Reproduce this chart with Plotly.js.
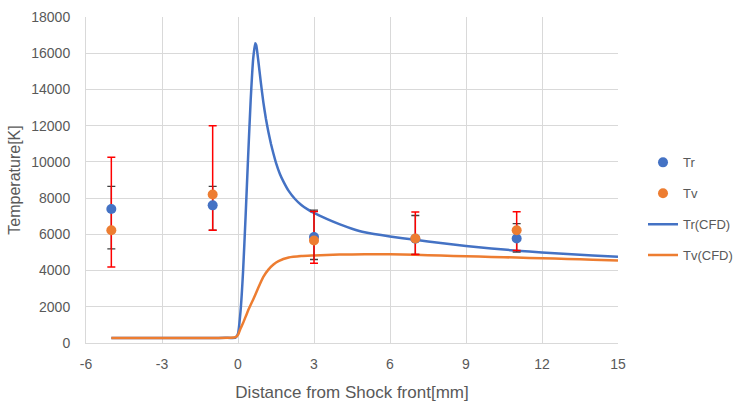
<!DOCTYPE html>
<html>
<head>
<meta charset="utf-8">
<script src="https://cdn.plot.ly/plotly-3.0.1.min.js"></script>
<style>html,body{margin:0;padding:0;background:#fff;}#chart{width:736px;height:403px;}</style>
</head>
<body>
<div id="chart"></div>
<script>
// Measured points
const pointX = [-5, -1, 3, 7, 11];
const trValues = [7400, 7600, 5850, 5760, 5770];
const tvValues = [6230, 8200, 5660, 5770, 6230];
// Error bars (Tr: dark, Tv: red)
const trErrPlus = [1250, 1050, 1490, 1280, 820];
const trErrMinus = [2200, 1370, 1240, 870, 750];
const tvErrPlus = [4020, 3790, 1605, 1460, 1020];
const tvErrMinus = [2040, 1970, 1250, 880, 1120];

// CFD curves
const trCfdX = [-5, -3, -1, -0.5, -0.1, 0, 0.1, 0.2, 0.3, 0.4, 0.5, 0.6, 0.68, 0.72, 0.8, 0.9, 1.0, 1.1, 1.2, 1.3, 1.4, 1.5, 1.65, 1.8, 2.0, 2.25, 2.5, 2.75, 3.0, 3.5, 4, 4.5, 5, 6, 7, 8, 9, 10, 11, 12, 13, 14, 15];
const trCfdY = [280, 280, 280, 285, 300, 520, 1750, 3950, 7000, 10300, 13400, 15700, 16550, 16450, 15600, 14400, 13300, 12400, 11650, 11000, 10450, 9950, 9350, 8900, 8400, 7950, 7620, 7380, 7180, 6850, 6560, 6310, 6110, 5880, 5700, 5520, 5360, 5220, 5100, 5000, 4910, 4830, 4760];
const tvCfdX = [-5, -3, -1, -0.3, -0.1, 0, 0.1, 0.2, 0.4, 0.6, 0.8, 1.0, 1.2, 1.4, 1.6, 2.0, 2.5, 3, 4, 5, 6, 7, 8, 9, 10, 11, 12, 13, 14, 15];
const tvCfdY = [280, 280, 280, 285, 320, 450, 800, 1100, 1800, 2400, 3050, 3650, 4050, 4330, 4520, 4720, 4800, 4830, 4880, 4900, 4900, 4870, 4830, 4790, 4750, 4720, 4680, 4640, 4600, 4560];

const xTicks = [-6, -3, 0, 3, 6, 9, 12, 15];
const yTicks = [0, 2000, 4000, 6000, 8000, 10000, 12000, 14000, 16000, 18000];

const blue = '#4472C4', orange = '#ED7D31';
const font = 'Liberation Sans, Arial, sans-serif';
const grey = '#595959';

const traces = [
  {x: trCfdX, y: trCfdY, mode: 'lines', name: 'Tr(CFD)', line: {color: blue, width: 2.5, shape: 'spline', smoothing: 0.5}, legendrank: 3, legendgroup: 'c'},
  {x: tvCfdX, y: tvCfdY, mode: 'lines', name: 'Tv(CFD)', line: {color: orange, width: 2.5, shape: 'spline', smoothing: 0.5}, legendrank: 4, legendgroup: 'd'},
  {x: pointX, y: trValues, mode: 'markers', showlegend: false, marker: {opacity: 0, size: 10},
   error_y: {type: 'data', symmetric: false, array: trErrPlus, arrayminus: trErrMinus, color: '#404040', thickness: 1.3, width: 4}},
  {x: pointX, y: tvValues, mode: 'markers', showlegend: false, marker: {opacity: 0, size: 10},
   error_y: {type: 'data', symmetric: false, array: tvErrPlus, arrayminus: tvErrMinus, color: '#FF0000', thickness: 1.5, width: 4}},
  {x: pointX, y: trValues, mode: 'markers', name: 'Tr', marker: {color: blue, size: 10}, legendrank: 1, legendgroup: 'a'},
  {x: pointX, y: tvValues, mode: 'markers', name: 'Tv', marker: {color: orange, size: 10}, legendrank: 2, legendgroup: 'b'}
];

const layout = {
  width: 736, height: 403,
  margin: {l: 86, r: 118, t: 17, b: 60, autoexpand: false},
  paper_bgcolor: '#fff', plot_bgcolor: '#fff',
  font: {family: font, size: 14, color: grey},
  showlegend: true,
  legend: {x: 1.047, y: 0.60, xanchor: 'left', yanchor: 'top', traceorder: 'grouped', tracegroupgap: 11,
           font: {family: font, size: 13, color: grey}, bgcolor: 'rgba(0,0,0,0)'},
  xaxis: {range: [-6, 15], tickvals: xTicks, ticktext: xTicks.map(String), showgrid: true, gridcolor: '#D9D9D9', gridwidth: 1,
          zeroline: false, showline: true, linecolor: '#D9D9D9', ticks: '', ticklabelstandoff: 8, automargin: false,
          tickfont: {family: font, size: 14, color: grey},
          title: {text: 'Distance from Shock front[mm]', font: {family: font, size: 17, color: grey}, standoff: 15}},
  yaxis: {range: [0, 18000], tickvals: yTicks, ticktext: yTicks.map(String), showgrid: true, gridcolor: '#D9D9D9', gridwidth: 1,
          zeroline: false, showline: true, linecolor: '#D9D9D9', ticks: '', ticklabelstandoff: 12, automargin: false,
          tickfont: {family: font, size: 14, color: grey},
          title: {text: 'Temperature[K]', font: {family: font, size: 16, color: grey}, standoff: 6}}
};

Plotly.newPlot('chart', traces, layout, {displayModeBar: false, staticPlot: true});
</script>
</body>
</html>
